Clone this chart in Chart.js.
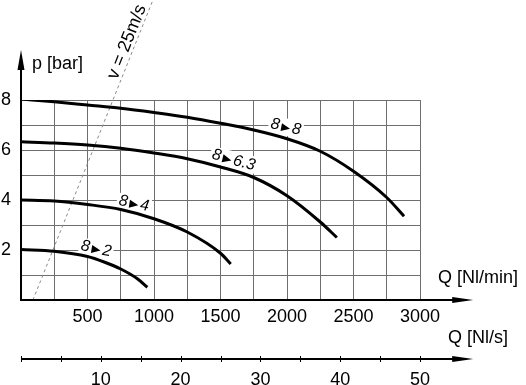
<!DOCTYPE html>
<html>
<head>
<meta charset="utf-8">
<script src="https://cdn.jsdelivr.net/npm/chart.js@4.4.1/dist/chart.umd.min.js"></script>
<style>
  body { margin: 0; background: #fff; }
  canvas { display: block; }
</style>
</head>
<body>
<canvas id="flowChart" width="526" height="385"></canvas>
<script>

// flow Q [Nl/min] and pressure p [bar], one pair per curve
const flow88 = [0, 250, 500, 750, 1000, 1250, 1500, 1750, 2000, 2250, 2500, 2750, 2880];
const pres88 = [8.04, 7.93, 7.8, 7.67, 7.5, 7.31, 7.07, 6.8, 6.45, 5.95, 5.15, 4.1, 3.35];

const flow863 = [0, 250, 500, 750, 1000, 1250, 1500, 1750, 2000, 2250, 2375];
const pres863 = [6.33, 6.28, 6.2, 6.07, 5.88, 5.65, 5.32, 4.9, 4.17, 3.12, 2.5];

const flow84 = [0, 250, 500, 750, 1000, 1250, 1500, 1577];
const pres84 = [4.0, 3.96, 3.82, 3.62, 3.25, 2.72, 1.87, 1.44];

const flow82 = [0, 250, 500, 625, 750, 875, 950];
const pres82 = [2.02, 1.95, 1.74, 1.52, 1.24, 0.85, 0.51];

// v = 25 m/s limit line
const velFlow = [90, 992];
const velPres = [0, 12];

const curveNames = ["8 > 8", "8 > 6.3", "8 > 4", "8 > 2"];
const tagLeft = ["8", "8", "8", "8"];
const tagRight = ["8", "6.3", "4", "2"];

const FONT = '"Liberation Sans", Arial, sans-serif';

function toPoints(xs, ys){
    return xs.map((x, i) => ({x: x, y: ys[i]}));
}

function curve(label, xs, ys){
    return {
        label: label,
        data: toPoints(xs, ys),
        showLine: true,
        borderColor: "#000",
        borderWidth: 3,
        pointRadius: 0,
        cubicInterpolationMode: "monotone"
    };
}

// where the little "8 > x" tags sit: Q, p, angle
const tagPlaces = [
    {q: 1992, p: 6.94, a: 11},
    {q: 1600, p: 5.62, a: 14},
    {q: 850, p: 3.88, a: 9},
    {q: 566, p: 2.07, a: 10}
];

function drawTag(ctx, cx, cy, angle, left, right){
    ctx.save();
    ctx.translate(cx, cy);
    ctx.rotate(angle * Math.PI / 180);
    ctx.font = "italic 16px " + FONT;
    const wl = ctx.measureText(left).width;
    const wr = ctx.measureText(right).width;
    const tri = 9, gap = 2;
    const total = wl + gap + tri + gap + wr;
    let x = -total / 2;
    ctx.fillStyle = "#fff";
    ctx.fillRect(x - 2, -8, total + 4, 17);
    ctx.fillStyle = "#000";
    ctx.textBaseline = "middle";
    ctx.textAlign = "left";
    ctx.fillText(left, x, 0);
    x += wl + gap;
    ctx.beginPath();
    ctx.moveTo(x, -2.5);
    ctx.lineTo(x + tri, 1.5);
    ctx.lineTo(x, 5.5);
    ctx.closePath();
    ctx.fill();
    x += tri + gap;
    ctx.fillText(right, x, 1);
    ctx.restore();
}

function arrowHead(ctx, tipX, tipY, dx, dy, len, half){
    // dx,dy unit direction of the arrow
    const bx = tipX - dx * len, by = tipY - dy * len;
    ctx.beginPath();
    ctx.moveTo(tipX, tipY);
    ctx.lineTo(bx - dy * half, by + dx * half);
    ctx.lineTo(bx + dy * half, by - dx * half);
    ctx.closePath();
    ctx.fill();
}

const decorations = {
    id: "decorations",
    beforeDatasetsDraw(chart){
        const xs = chart.scales.x, ys = chart.scales.y;
        tagPlaces.forEach((t, i) => {
            drawTag(chart.ctx, xs.getPixelForValue(t.q), ys.getPixelForValue(t.p), t.a, tagLeft[i], tagRight[i]);
        });
    },
    afterDatasetsDraw(chart){
        const ctx = chart.ctx;
        const xs = chart.scales.x, ys = chart.scales.y, x2 = chart.scales.x2;

        ctx.save();
        ctx.fillStyle = "#000";
        ctx.strokeStyle = "#000";
        ctx.lineWidth = 2;

        const x0 = xs.getPixelForValue(0);
        const y0 = ys.getPixelForValue(0);
        const yTop = ys.getPixelForValue(10);
        const xEnd = xs.getPixelForValue(3400);

        // p axis
        ctx.beginPath();
        ctx.moveTo(x0, y0 + 1);
        ctx.lineTo(x0, yTop + 10);
        ctx.stroke();
        arrowHead(ctx, x0, yTop, 0, -1, 20, 3.5);

        // Q [Nl/min] axis
        ctx.beginPath();
        ctx.moveTo(x0 - 1, y0);
        ctx.lineTo(xEnd - 10, y0);
        ctx.stroke();
        arrowHead(ctx, xEnd, y0, 1, 0, 21, 3);

        // Q [Nl/s] axis
        const ly = x2.top;
        ctx.beginPath();
        ctx.moveTo(x2.getPixelForValue(0), ly);
        ctx.lineTo(x2.getPixelForValue(3400 / 60) - 10, ly);
        ctx.stroke();
        arrowHead(ctx, x2.getPixelForValue(3400 / 60), ly, 1, 0, 21, 3);
        ctx.lineWidth = 1;
        x2.ticks.forEach(t => {
            const px = Math.round(x2.getPixelForValue(t.value)) + 0.5;
            ctx.beginPath();
            ctx.moveTo(px, ly - 3);
            ctx.lineTo(px, ly + 3);
            ctx.stroke();
        });

        // axis titles
        ctx.font = "18px " + FONT;
        ctx.textBaseline = "alphabetic";
        ctx.textAlign = "left";
        ctx.fillText("p [bar]", x0 + 11, yTop + 19);
        ctx.fillText("Q [Nl/min]", 438, y0 - 17);
        ctx.fillText("Q [Nl/s]", 448, ly - 16);

        // v = 25m/s text along the dashed line
        const p1x = xs.getPixelForValue(velFlow[0]), p1y = ys.getPixelForValue(velPres[0]);
        const p2x = xs.getPixelForValue(velFlow[1]), p2y = ys.getPixelForValue(velPres[1]);
        const ang = Math.atan2(p2y - p1y, p2x - p1x);
        ctx.translate(127, 42);
        ctx.rotate(ang);
        ctx.textAlign = "center";
        ctx.textBaseline = "middle";
        ctx.fillText("v = 25m/s", 0, 0);
        ctx.restore();
    }
};

new Chart(document.getElementById("flowChart"), {
    type: "scatter",
    data: {
        datasets: [
            curve(curveNames[0], flow88, pres88),
            curve(curveNames[1], flow863, pres863),
            curve(curveNames[2], flow84, pres84),
            curve(curveNames[3], flow82, pres82),
            {
                label: "v = 25m/s",
                data: toPoints(velFlow, velPres),
                showLine: true,
                borderColor: "#888",
                borderWidth: 1,
                borderDash: [3, 3],
                pointRadius: 0,
                clip: false
            }
        ]
    },
    options: {
        responsive: false,
        animation: false,
        devicePixelRatio: 1,
        layout: { padding: { top: 100, right: 106, left: 0, bottom: 0 } },
        plugins: {
            legend: { display: false },
            tooltip: { enabled: false }
        },
        scales: {
            x: {
                type: "linear",
                position: "bottom",
                weight: 0,
                min: 0,
                max: 3000,
                afterFit: s => { s.height = 59; },
                border: { display: false },
                grid: { color: "#6e6e6e", lineWidth: 1, drawTicks: false },
                ticks: {
                    stepSize: 250,
                    autoSkip: false,
                    maxRotation: 0,
                    padding: 6,
                    color: "#000",
                    font: { family: FONT, size: 18 },
                    callback: v => (v % 500 === 0 && v > 0) ? String(v) : ""
                }
            },
            x2: {
                type: "linear",
                position: "bottom",
                weight: 1,
                min: 0,
                max: 50,
                afterFit: s => { s.height = 26; },
                border: { display: false },
                grid: { display: false, drawTicks: false },
                ticks: {
                    stepSize: 5,
                    autoSkip: false,
                    maxRotation: 0,
                    padding: 10,
                    color: "#000",
                    font: { family: FONT, size: 18 },
                    callback: v => (v % 10 === 0 && v > 0) ? String(v) : ""
                }
            },
            y: {
                type: "linear",
                min: 0,
                max: 8,
                afterFit: s => { s.width = 21; },
                border: { display: false },
                grid: { color: "#6e6e6e", lineWidth: 1, drawTicks: false },
                ticks: {
                    stepSize: 1,
                    padding: 10,
                    color: "#000",
                    font: { family: FONT, size: 18 },
                    callback: v => (v % 2 === 0 && v > 0) ? String(v) : ""
                }
            }
        }
    },
    plugins: [decorations]
});
</script>
</body>
</html>
